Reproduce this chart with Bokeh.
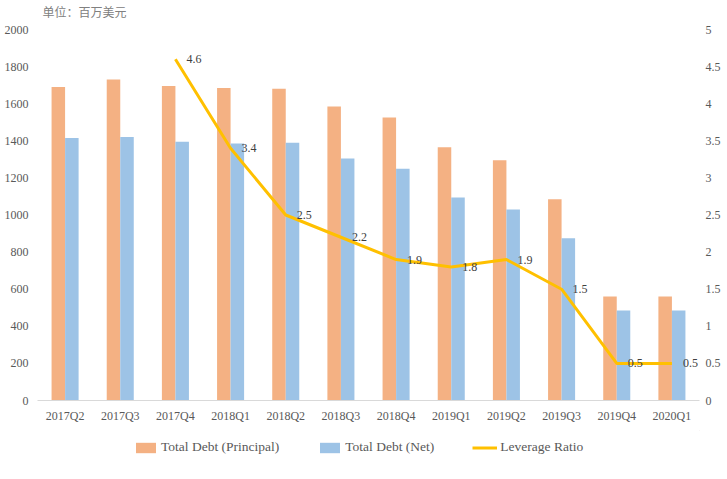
from bokeh.plotting import figure
from bokeh.layouts import column
from bokeh.models import (ColumnDataSource, FactorRange, Range1d, LinearAxis,
                          FixedTicker, NumeralTickFormatter, Legend, LegendItem, Label)
from bokeh.transform import dodge
from bokeh.core.properties import value
from bokeh.embed import file_html
from bokeh.resources import INLINE

quarters = ["2017Q2", "2017Q3", "2017Q4", "2018Q1", "2018Q2", "2018Q3",
            "2018Q4", "2019Q1", "2019Q2", "2019Q3", "2019Q4", "2020Q1"]
debt_principal = [1690, 1730, 1695, 1685, 1680, 1585, 1525, 1365, 1295, 1085, 560, 560]
debt_net = [1415, 1420, 1395, 1385, 1390, 1305, 1250, 1095, 1030, 875, 485, 485]
ratio_quarters = ["2017Q4", "2018Q1", "2018Q2", "2018Q3", "2018Q4", "2019Q1",
                  "2019Q2", "2019Q3", "2019Q4", "2020Q1"]
leverage_ratio = [4.6, 3.4, 2.5, 2.2, 1.9, 1.8, 1.9, 1.5, 0.5, 0.5]
left_ticks = [0, 200, 400, 600, 800, 1000, 1200, 1400, 1600, 1800, 2000]
right_ticks = [0, 0.5, 1, 1.5, 2, 2.5, 3, 3.5, 4, 4.5, 5]
series_names = ["Total Debt (Principal)", "Total Debt (Net)", "Leverage Ratio"]
unit_text = "单位：百万美元"

SERIF = "Liberation Serif"
TICK_COLOR = "#595959"
C_PRINCIPAL, C_NET, C_RATIO = "#F4B183", "#9DC3E6", "#FFC000"

bars = ColumnDataSource(dict(q=quarters, principal=debt_principal, net=debt_net))
ratio = ColumnDataSource(dict(q=ratio_quarters, r=leverage_ratio,
                              lbl=[f"{v:g}" for v in leverage_ratio]))


def strip(height):
    """A bare figure used as a text/legend band around the chart."""
    f = figure(width=727, height=height, output_backend="svg", toolbar_location=None,
               x_axis_type=None, y_axis_type=None, min_border=0,
               outline_line_color=None, x_range=Range1d(0, 1), y_range=Range1d(0, 1))
    f.xgrid.visible = False
    f.ygrid.visible = False
    return f


# unit note above the chart
top = strip(20)
top.add_layout(Label(x=5, y=9, x_units="screen", y_units="screen", text=unit_text,
                     text_font="Noto Sans CJK SC", text_font_size="12px",
                     text_color="#808080", text_baseline="middle"))

# main chart
p = figure(width=727, height=410, x_range=FactorRange(*quarters),
           y_range=Range1d(0, 2000), output_backend="svg", toolbar_location=None,
           min_border_left=37, min_border_right=28, min_border_top=9,
           min_border_bottom=30, outline_line_color=None)
p.extra_y_ranges = {"ratio": Range1d(0, 5)}
p.xgrid.visible = False
p.ygrid.visible = False

bw = 0.245
p.vbar(x=dodge("q", -bw / 2, range=p.x_range), top="principal", width=bw,
       source=bars, fill_color=C_PRINCIPAL, line_color=None)
p.vbar(x=dodge("q", bw / 2, range=p.x_range), top="net", width=bw,
       source=bars, fill_color=C_NET, line_color=None)
p.line(x="q", y="r", source=ratio, y_range_name="ratio",
       line_color=C_RATIO, line_width=3, line_join="round")
p.text(x=dodge("q", 0.2, range=p.x_range), y="r", text="lbl", source=ratio,
       y_range_name="ratio", text_font=value(SERIF), text_font_size="12px",
       text_color="#404040", text_baseline="middle", text_align="left")

# left axis (debt, millions USD)
ya = p.yaxis[0]
ya.ticker = FixedTicker(ticks=left_ticks)
ya.formatter = NumeralTickFormatter(format="0")
# bottom axis
xa = p.xaxis[0]
xa.axis_line_color = "#D9D9D9"
xa.major_label_standoff = 8
# right axis (leverage ratio)
ra = LinearAxis(y_range_name="ratio", ticker=FixedTicker(ticks=right_ticks),
                formatter=NumeralTickFormatter(format="0.[0]"))
p.add_layout(ra, "right")
ya.major_label_standoff = 9
ra.major_label_standoff = 6

for ax in (ya, xa, ra):
    ax.major_tick_line_color = None
    ax.minor_tick_line_color = None
    ax.major_tick_out = 0
    ax.major_tick_in = 0
    ax.minor_tick_out = 0
    ax.minor_tick_in = 0
    ax.major_label_text_font = SERIF
    ax.major_label_text_font_size = "12px"
    ax.major_label_text_color = TICK_COLOR
ya.axis_line_color = None
ra.axis_line_color = None

# legend band under the chart; its swatch renderers sit outside the visible range
lf = strip(49)
k1 = lf.vbar(x=[5], top=[5], bottom=[4], width=0.1, fill_color=C_PRINCIPAL, line_color=None)
k2 = lf.vbar(x=[5], top=[5], bottom=[4], width=0.1, fill_color=C_NET, line_color=None)
k3 = lf.line(x=[5, 6], y=[5, 5], line_color=C_RATIO, line_width=3)
legend = Legend(items=[LegendItem(label=n, renderers=[r])
                       for n, r in zip(series_names, [k1, k2, k3])],
                orientation="horizontal", location=(96, 24),
                glyph_width=25, glyph_height=13, label_standoff=3, spacing=38,
                padding=0, margin=0, border_line_color=None,
                background_fill_alpha=0, label_text_font=SERIF,
                label_text_font_size="13.5px", label_text_color=TICK_COLOR)
lf.add_layout(legend, "center")

open("out.html", "w").write(file_html(column(top, p, lf, spacing=0), INLINE))
